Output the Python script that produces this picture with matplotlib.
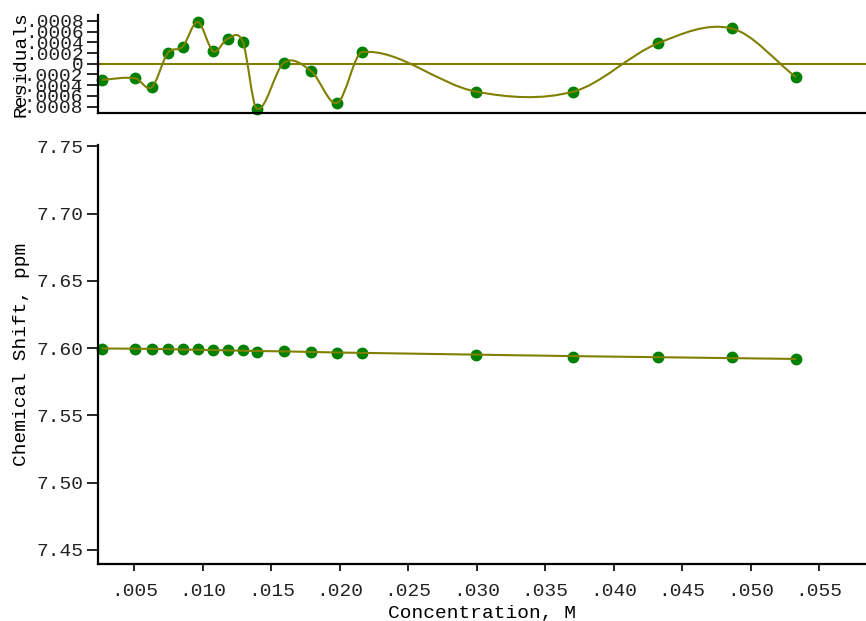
import matplotlib
import matplotlib.pyplot as plt
import numpy as np
from matplotlib.patches import PathPatch
from matplotlib.path import Path

matplotlib.use("Agg")

# concentration of each titration point, M
conc = [0.00262, 0.00505, 0.00627, 0.00744, 0.00853, 0.00963, 0.01077,
        0.01182, 0.01292, 0.01394, 0.01593, 0.01790, 0.01982, 0.02165,
        0.02995, 0.03706, 0.04322, 0.04862, 0.05332]
# observed chemical shift, ppm
shift = [7.5995, 7.5993, 7.5991, 7.5995, 7.5993, 7.5996, 7.5988,
         7.5989, 7.5985, 7.5971, 7.5976, 7.5971, 7.5961, 7.5967,
         7.5947, 7.5936, 7.5937, 7.5933, 7.5918]
# fitted curve at the same concentrations
fit = [7.5998, 7.5996, 7.5995, 7.5993, 7.5990, 7.5988, 7.5986,
       7.5984, 7.5981, 7.5979, 7.5976, 7.5972, 7.5968, 7.5965,
       7.5952, 7.5941, 7.5933, 7.5926, 7.5920]
# residuals (observed - fit)
resid = [-0.00030, -0.00027, -0.00044, 0.00020, 0.00032, 0.00078, 0.00023,
         0.00047, 0.00041, -0.00084, 0.00002, -0.000135, -0.00073, 0.00022,
         -0.00052, -0.00052, 0.00038, 0.00066, -0.00025]

x_ticks = [0.005, 0.010, 0.015, 0.020, 0.025, 0.030, 0.035, 0.040, 0.045, 0.050, 0.055]
x_labels = [".005", ".010", ".015", ".020", ".025", ".030", ".035", ".040", ".045", ".050", ".055"]
y_ticks = [7.45, 7.50, 7.55, 7.60, 7.65, 7.70, 7.75]
y_labels = ["7.45", "7.50", "7.55", "7.60", "7.65", "7.70", "7.75"]
r_ticks = [-0.0008, -0.0006, -0.0004, -0.0002, 0.0, 0.0002, 0.0004, 0.0006, 0.0008]
r_labels = ["-.0008", "-.0006", "-.0004", "-.0002", "0", ".0002", ".0004", ".0006", ".0008"]

OLIVE = "#808000"
GREEN = "#008000"

plt.rcParams["font.family"] = ["Liberation Mono", "DejaVu Sans Mono"]
plt.rcParams["font.size"] = 14
plt.rcParams["text.color"] = "#222222"
plt.rcParams["xtick.color"] = "black"
plt.rcParams["ytick.color"] = "black"
plt.rcParams["xtick.labelcolor"] = "#222222"
plt.rcParams["ytick.labelcolor"] = "#222222"


def smooth_path(xs, ys):
    # cubic hermite through the points, drawn as bezier segments
    xs = np.asarray(xs, dtype=float)
    ys = np.asarray(ys, dtype=float)
    n = len(xs)
    m = np.empty(n)
    m[1:-1] = (ys[2:] - ys[:-2]) / (xs[2:] - xs[:-2])
    m[0] = (ys[1] - ys[0]) / (xs[1] - xs[0])
    m[-1] = (ys[-1] - ys[-2]) / (xs[-1] - xs[-2])
    verts = [(xs[0], ys[0])]
    codes = [Path.MOVETO]
    for i in range(n - 1):
        h = xs[i + 1] - xs[i]
        verts += [(xs[i] + h / 3, ys[i] + m[i] * h / 3),
                  (xs[i + 1] - h / 3, ys[i + 1] - m[i + 1] * h / 3),
                  (xs[i + 1], ys[i + 1])]
        codes += [Path.CURVE4] * 3
    return Path(verts, codes)


def style_axes(ax):
    for side in ("top", "right"):
        ax.spines[side].set_visible(False)
    for side in ("left", "bottom"):
        ax.spines[side].set_linewidth(1.6)
    ax.tick_params(axis="y", direction="out", length=8, width=1.2, pad=2)


fig = plt.figure(figsize=(8.66, 6.21), dpi=100)
ax = fig.add_axes([0.1126, 0.0918, 0.8874, 0.6747])
ax_r = fig.add_axes([0.1126, 0.818, 0.8874, 0.1578], sharex=ax)

xlim = (0.00231, 0.05843)

# main panel
ax.plot(conc, shift, "o", color=GREEN, ms=7.5, mec=GREEN, zorder=2, clip_on=False)
ax.add_patch(PathPatch(smooth_path(conc, fit), fill=False, edgecolor=OLIVE, lw=1.5, zorder=3))
ax.set_xlim(*xlim)
ax.set_ylim(7.4396, 7.751)
ax.set_xticks(x_ticks)
ax.set_xticklabels(x_labels)
ax.set_yticks(y_ticks)
ax.set_yticklabels(y_labels)
style_axes(ax)
ax.tick_params(axis="x", direction="out", length=5, width=1.2, pad=9)
ax.set_xlabel("Concentration, M", labelpad=3)
ax.set_ylabel("Chemical Shift, ppm")
ax.yaxis.set_label_coords(-0.088, 0.5)

# residual panel
ax_r.axhline(0, color=OLIVE, lw=1.5, zorder=1)
ax_r.plot(conc, resid, "o", color=GREEN, ms=7.5, mec=GREEN, zorder=2, clip_on=False)
ax_r.add_patch(PathPatch(smooth_path(conc, resid), fill=False, edgecolor=OLIVE, lw=1.5, zorder=3))
ax_r.set_ylim(-0.00092, 0.00091)
ax_r.set_yticks(r_ticks)
ax_r.set_yticklabels(r_labels)
style_axes(ax_r)
ax_r.tick_params(axis="x", bottom=False, labelbottom=False)
ax_r.set_ylabel("Residuals")
ax_r.yaxis.set_label_coords(-0.088, 0.5)

fig.savefig("out.png", dpi=100)
plt.close(fig)
